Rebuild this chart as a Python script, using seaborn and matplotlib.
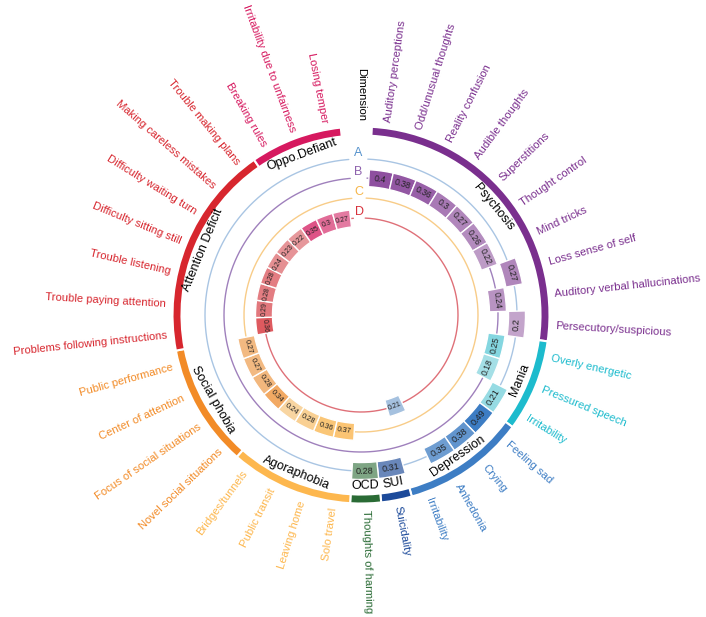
import numpy as np
import matplotlib
matplotlib.use("Agg")
import matplotlib.pyplot as plt
import seaborn as sns

# dimensions (clockwise from the top)
dim_names = ['Psychosis', 'Mania', 'Depression', 'SUI', 'OCD', 'Agoraphobia',
             'Social phobia', 'Attention Deficit', 'Oppo.Defiant']
dim_sizes = [10, 3, 4, 1, 1, 4, 4, 7, 3]
dim_colors = ['#7A2F8E', '#1DBBCD', '#3D7DC4', '#1C4A9A', '#2A6B35', '#FDB74E',
              '#F28B27', '#D7262E', '#D6195F']

# items, in the same clockwise order
item_labels = ['Auditory perceptions', 'Odd/unusual thoughts', 'Reality confusion',
               'Audible thoughts', 'Superstitions', 'Thought control', 'Mind tricks',
               'Loss sense of self', 'Auditory verbal hallucinations', 'Persecutory/suspicious',
               'Overly energetic', 'Pressured speech', 'Irritability',
               'Feeling sad', 'Crying', 'Anhedonia', 'Irritability',
               'Suicidality',
               'Thoughts of harming',
               'Solo travel', 'Leaving home', 'Public transit', 'Bridges/tunnels',
               'Novel social situations', 'Focus of social situations',
               'Center of attention', 'Public performance',
               'Problems following instructions', 'Trouble paying attention',
               'Trouble listening', 'Difficulty sitting still', 'Difficulty waiting turn',
               'Making careless mistakes', 'Trouble making plans',
               'Breaking rules', 'Irritability due to unfairness', 'Losing temper']
item_values = [0.40, 0.38, 0.36, 0.30, 0.27, 0.26, 0.22, 0.27, 0.24, 0.20,
               0.25, 0.18, 0.21,
               0.49, 0.38, 0.35, 0.21,
               0.31,
               0.28,
               0.37, 0.36, 0.28, 0.24,
               0.34, 0.28, 0.27, 0.27,
               0.36, 0.29, 0.28, 0.28, 0.24, 0.23, 0.22,
               0.35, 0.30, 0.27]
item_cluster = ['B', 'B', 'B', 'B', 'B', 'B', 'B', 'A', 'B', 'A',
                'B', 'B', 'A',
                'A', 'A', 'A', 'D',
                'A',
                'A',
                'C', 'C', 'C', 'C',
                'C', 'C', 'C', 'C',
                'D', 'D', 'D', 'D', 'D', 'D', 'D',
                'D', 'D', 'D']

clusters = ['A', 'B', 'C', 'D']
cluster_r = {'A': 156, 'B': 137, 'C': 117, 'D': 97}
cluster_line = {'A': '#A9C5E3', 'B': '#9F80BC', 'C': '#F8CC88', 'D': '#DF7078'}
cluster_text = {'A': '#5592CC', 'B': '#8E62AD', 'C': '#F6B548', 'D': '#D7303A'}
cluster_fs = {'A': 6.6, 'B': 6.2, 'C': 5.4, 'D': 5.0}

sns.set_style('white')
plt.rcParams['font.family'] = ['Liberation Sans', 'DejaVu Sans']

W, H = 706, 617
cx, cy, rmax = 361, 315, 300
fig = plt.figure(figsize=(W / 100, H / 100), dpi=100)
ax = fig.add_axes([(cx - rmax) / W, (H - cy - rmax) / H, 2 * rmax / W, 2 * rmax / H],
                  projection='polar')
ax.set_theta_zero_location('N')
ax.set_theta_direction(-1)
ax.set_ylim(0, rmax)
ax.set_axis_off()

n_slots = len(item_labels) + 1
slot = 2 * np.pi / n_slots
offset = 0.85
thetas = (np.arange(len(item_labels)) + offset) * slot
item_dim = np.repeat(np.arange(len(dim_names)), dim_sizes)


def tang_rot(deg):
    d = deg % 360
    return 180 - d if 90 < d < 270 else -d


# cluster circles with a gap at the top for the letters
circ = np.radians(np.linspace(2.5, 355.5, 500))
for c in clusters:
    ax.plot(circ, np.full_like(circ, cluster_r[c]), color=cluster_line[c], lw=1, zorder=1)
    ax.text(np.radians(-1), cluster_r[c] + 6, c, color=cluster_text[c], fontsize=9,
            ha='center', va='center')

# tiles
for i, (lab, v, c) in enumerate(zip(item_labels, item_values, item_cluster)):
    col = dim_colors[item_dim[i]]
    cmap = sns.light_palette(col, as_cmap=True)
    f = float(np.clip(0.35 + (v - 0.18) * 2.2, 0.3, 1.0))
    ax.bar(thetas[i], 17, width=slot, bottom=cluster_r[c] - 8.5, color=cmap(f),
           edgecolor='white', linewidth=1, zorder=2)
    deg = np.degrees(thetas[i])
    ax.text(thetas[i], cluster_r[c], f'{v:g}', fontsize=cluster_fs[c], color='#222222',
            rotation=tang_rot(deg), rotation_mode='anchor', ha='center', va='center',
            zorder=3)

# outer ring of dimensions
start = 0
for name, n, col in zip(dim_names, dim_sizes, dim_colors):
    mid = (start + n / 2 - 0.5 + offset) * slot
    ax.bar(mid, 9, width=n * slot, bottom=179.5, color=col, edgecolor='white',
           linewidth=1.5, zorder=2)
    ax.text(mid, 171, name, fontsize=9, color='black', rotation=tang_rot(np.degrees(mid)),
            rotation_mode='anchor', ha='center', va='center')
    start += n

# item labels
for i, lab in enumerate(item_labels):
    deg = np.degrees(thetas[i])
    col = dim_colors[item_dim[i]]
    if deg < 180:
        rot, ha = 90 - deg, 'left'
    else:
        rot, ha = 270 - deg, 'right'
    ax.text(thetas[i], 195, lab, fontsize=8.1, color=col, rotation=rot,
            rotation_mode='anchor', ha=ha, va='center')

ax.text(0, 194, 'Dimension', fontsize=8.1, color='black', rotation=-90,
        rotation_mode='anchor', ha='right', va='center')

fig.savefig('out.png', dpi=100)
